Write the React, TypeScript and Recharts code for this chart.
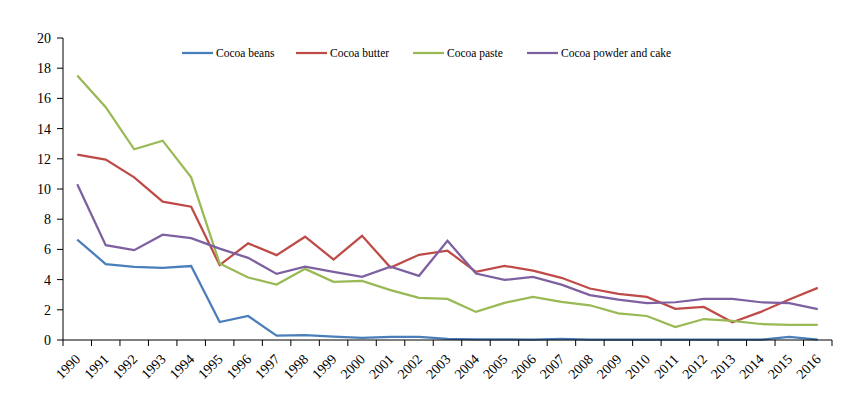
import React from 'react';
import { LineChart, Line, XAxis, YAxis, Legend } from 'recharts';

const years = [
  '1990', '1991', '1992', '1993', '1994', '1995', '1996', '1997', '1998', '1999',
  '2000', '2001', '2002', '2003', '2004', '2005', '2006', '2007', '2008', '2009',
  '2010', '2011', '2012', '2013', '2014', '2015', '2016',
];

const cocoaBeans = [
  6.65, 5.03, 4.85, 4.78, 4.9, 1.19, 1.59, 0.29, 0.33, 0.22,
  0.14, 0.2, 0.2, 0.07, 0.04, 0.04, 0.02, 0.07, 0.02, 0.02,
  0.02, 0.02, 0.02, 0.02, 0.02, 0.2, 0.02,
];

const cocoaButter = [
  12.28, 11.95, 10.77, 9.16, 8.83, 4.96, 6.4, 5.62, 6.84, 5.33,
  6.9, 4.8, 5.64, 5.91, 4.51, 4.91, 4.6, 4.12, 3.41, 3.05,
  2.85, 2.06, 2.19, 1.17, 1.86, 2.68, 3.45,
];

const cocoaPaste = [
  17.52, 15.42, 12.63, 13.2, 10.77, 5.07, 4.14, 3.67, 4.71, 3.85,
  3.92, 3.3, 2.79, 2.72, 1.86, 2.46, 2.85, 2.52, 2.3, 1.77,
  1.59, 0.86, 1.39, 1.26, 1.06, 1.0, 1.0,
];

const cocoaPowder = [
  10.31, 6.28, 5.95, 6.97, 6.75, 6.05, 5.44, 4.38, 4.85, 4.51,
  4.18, 4.85, 4.25, 6.57, 4.4, 3.98, 4.18, 3.67, 2.97, 2.68,
  2.44, 2.5, 2.72, 2.72, 2.5, 2.44, 2.04,
];

const yTicks = [0, 2, 4, 6, 8, 10, 12, 14, 16, 18, 20];

const series = [
  { key: 'beans', name: 'Cocoa beans', color: '#4A7EBB', left: 182 },
  { key: 'butter', name: 'Cocoa butter', color: '#BE4B48', left: 296 },
  { key: 'paste', name: 'Cocoa paste', color: '#98B954', left: 413 },
  { key: 'powder', name: 'Cocoa powder and cake', color: '#7D60A0', left: 527 },
];

const data = years.map((year, i) => ({
  i,
  year,
  beans: cocoaBeans[i],
  butter: cocoaButter[i],
  paste: cocoaPaste[i],
  powder: cocoaPowder[i],
}));

// tick marks sit between categories, labels at category centres
const xTicks: number[] = [];
for (let i = 0; i < years.length; i++) {
  xTicks.push(i - 0.5, i);
}
xTicks.push(years.length - 0.5);

const font = '"Liberation Serif", "Times New Roman", serif';

const YearTick = (props: any) => {
  const { x, y, payload } = props;
  const v = payload.value;
  if (!Number.isInteger(v)) {
    return <line x1={x} y1={y} x2={x} y2={y + 6} stroke="#000" strokeWidth={1} />;
  }
  const tx = x + 4;
  const ty = y + 20;
  return (
    <text
      x={tx}
      y={ty}
      transform={`rotate(-45, ${tx}, ${ty})`}
      textAnchor="end"
      fontFamily={font}
      fontSize={14}
      fill="#000"
    >
      {years[v]}
    </text>
  );
};

const LegendBox = () => (
  <div style={{ position: 'relative', width: 848, height: 20, fontFamily: font, fontSize: 11.5 }}>
    {series.map((s) => (
      <div
        key={s.key}
        style={{ position: 'absolute', left: s.left, top: 0, display: 'flex', alignItems: 'center', height: 20 }}
      >
        <svg width={31} height={4} style={{ marginRight: 3 }}>
          <line x1={0} y1={2} x2={31} y2={2} stroke={s.color} strokeWidth={2.25} />
        </svg>
        <span style={{ color: '#000', whiteSpace: 'nowrap' }}>{s.name}</span>
      </div>
    ))}
  </div>
);

export default function App() {
  return (
    <div style={{ width: 848, height: 394, background: '#fff' }}>
      <style>{'body { margin: 0; }'}</style>
      <LineChart
        width={848}
        height={394}
        data={data}
        margin={{ top: 38, right: 16, bottom: 0, left: 8 }}
      >
        <XAxis
          dataKey="i"
          type="number"
          domain={[-0.5, years.length - 0.5]}
          ticks={xTicks}
          interval={0}
          tickLine={false}
          tickSize={0}
          tickMargin={0}
          tick={<YearTick />}
          axisLine={{ stroke: '#000', strokeWidth: 1 }}
          height={54}
        />
        <YAxis
          domain={[0, 20]}
          ticks={yTicks}
          interval={0}
          width={55}
          tickSize={6}
          tickMargin={6}
          tickLine={{ stroke: '#000' }}
          axisLine={{ stroke: '#000', strokeWidth: 1 }}
          tick={{ fill: '#000', fontSize: 14, fontFamily: font }}
        />
        <Legend
          verticalAlign="middle"
          content={<LegendBox />}
          wrapperStyle={{ top: 43, left: 0, width: 848 }}
        />
        {series.map((s) => (
          <Line
            key={s.key}
            type="linear"
            dataKey={s.key}
            name={s.name}
            stroke={s.color}
            strokeWidth={2.25}
            dot={false}
            activeDot={false}
            isAnimationActive={false}
          />
        ))}
      </LineChart>
    </div>
  );
}
